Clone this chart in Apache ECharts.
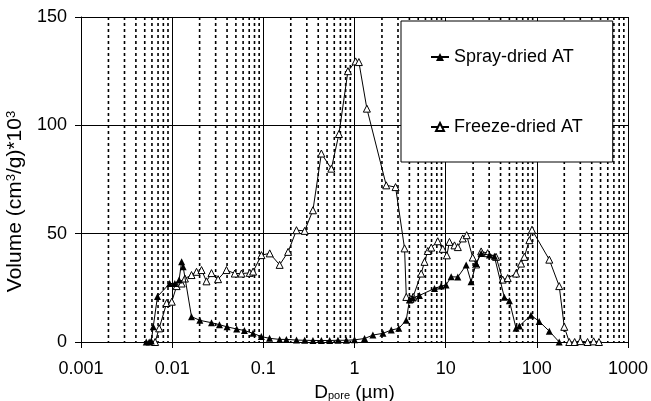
<!DOCTYPE html>
<html>
<head>
<meta charset="utf-8">
<script src="https://cdn.jsdelivr.net/npm/echarts@6/dist/echarts.min.js"></script>
<style>
  html, body { margin: 0; padding: 0; background: #fff; }
  #chart { width: 651px; height: 401px; }
</style>
</head>
<body>
<div id="chart"></div>
<script>
// 孔径 (µm) 与体积 (cm3/g)*10^3
const sprayD = [0.0052, 0.0056, 0.0059, 0.0062, 0.0069, 0.0094, 0.0107, 0.0119, 0.0127, 0.0132, 0.0163, 0.0201,
  0.027, 0.033, 0.040, 0.051, 0.062, 0.077, 0.095, 0.117, 0.151, 0.179, 0.231, 0.284, 0.35, 0.433, 0.534,
  0.658, 0.813, 1.0, 1.29, 1.59, 2.05, 2.53, 3.06, 3.69, 4.01, 4.36, 5.16, 7.54, 8.93, 10.1, 11.5, 13.6,
  16.8, 19.0, 21.6, 24.5, 30.2, 34.2, 44.0, 50.0, 59.2, 64.3, 86.3, 106, 137, 176]
const sprayV = [0, 0, 0.5, 7, 21, 27, 27, 28.6, 37, 34.7, 11.7, 10, 8.9, 8, 7, 6, 5.3, 4, 2.5, 1.7, 1.2, 1.2,
  0.9, 0.8, 0.7, 0.7, 0.7, 0.8, 0.8, 1, 1.6, 3.2, 4, 5.5, 6.3, 10, 19.4, 20.3, 21.5, 24.7, 25.8, 26.3, 30.1, 30,
  35.5, 27.8, 36.2, 40.8, 40.1, 39.6, 20.6, 19, 6.3, 7.4, 12.4, 9.5, 5, 0]

const freezeD = [0.0065, 0.0072, 0.0087, 0.0099, 0.0112, 0.0127, 0.0138, 0.0163, 0.0185, 0.021, 0.0238, 0.027,
  0.0319, 0.0394, 0.0486, 0.0576, 0.071, 0.0772, 0.0953, 0.1175, 0.151, 0.187, 0.231, 0.284, 0.35, 0.433,
  0.557, 0.675, 0.847, 1.028, 1.117, 1.367, 2.23, 2.82, 3.54, 3.7, 4.1, 4.4, 5.39, 5.86, 6.37, 6.94, 8.19,
  9.29, 10.3, 11.0, 12.5, 13.6, 15.4, 17.0, 19.8, 21.6, 24.5, 28.9, 35.7, 42.2, 47.9, 59.2, 67.1, 73.0,
  82.8, 88.5, 137, 176, 200, 227, 260, 300, 360, 420, 480]
const freezeV = [0, 6.3, 18, 18.6, 25.8, 27, 29.3, 30.9, 32.4, 33.2, 28, 31.8, 29, 33.2, 31.6, 31.6, 31.9, 32.5,
  40.1, 40.9, 35.6, 41.6, 51.6, 51.3, 60.8, 87, 80, 96, 125, 129.5, 129.2, 107.7, 72.3, 71.5, 43.2, 20.8,
  19.8, 20.9, 31.6, 37, 42, 43.6, 46.5, 43, 40, 46.2, 44.6, 43.8, 47.8, 49.3, 39, 35.8, 41.8, 41, 39.3,
  28.8, 29.5, 31.6, 36.2, 39.3, 47, 51.8, 38, 25.8, 7, 0, 0, 0.4, 0, 0.3, 0]

const seriesNames = ['Spray-dried AT', 'Freeze-dried AT']
const xTicks = [0.001, 0.01, 0.1, 1, 10, 100, 1000]
const yTicks = [0, 50, 100, 150]

// 每个数量级中 2..9 的虚线网格
const minorLines = []
for (let i = 0; i < xTicks.length - 1; i++) {
  for (let k = 2; k <= 9; k++) {
    minorLines.push([+(xTicks[i] * k).toPrecision(3), 0])
  }
}

const pairs = (xs, ys) => xs.map((x, i) => [x, ys[i]])

const chartInstance = echarts.init(document.getElementById('chart'))
const option = {
  animation: false,
  backgroundColor: '#fff',
  textStyle: { fontFamily: 'Liberation Sans, Arial, sans-serif', color: '#000' },
  grid: { left: 81, right: 23, top: 17, bottom: 59, outerBoundsMode: 'none' },
  legend: {
    data: seriesNames,
    orient: 'vertical',
    left: 401,
    top: 21,
    z: 20,
    padding: [26, 30, 25, 29],
    itemGap: 50,
    itemWidth: 18,
    itemHeight: 10,
    backgroundColor: '#fff',
    borderColor: '#000',
    borderWidth: 1,
    textStyle: { fontSize: 18, lineHeight: 20, color: '#000' }
  },
  xAxis: {
    type: 'log',
    logBase: 10,
    min: xTicks[0],
    max: xTicks[xTicks.length - 1],
    name: 'D{sub|pore} (µm)',
    nameLocation: 'middle',
    nameGap: 34,
    nameTextStyle: {
      fontSize: 19,
      color: '#000',
      rich: { sub: { fontSize: 11, verticalAlign: 'bottom', padding: [6, 0, 0, 0] } }
    },
    axisLine: { lineStyle: { color: '#000', width: 1 } },
    axisTick: { show: true, length: 6, lineStyle: { color: '#000' } },
    axisLabel: {
      fontSize: 18,
      color: '#000',
      margin: 18,
      formatter: (v) => String(+v.toPrecision(3))
    },
    splitLine: { show: true, lineStyle: { color: '#000', width: 1 } }
  },
  yAxis: {
    type: 'value',
    min: yTicks[0],
    max: yTicks[yTicks.length - 1],
    interval: 50,
    name: 'Volume (cm{sup|3}/g)*10{sup|3}',
    nameLocation: 'middle',
    nameGap: 49,
    nameTextStyle: {
      fontSize: 21,
      color: '#000',
      padding: [0, 44, 0, 0],
      rich: { sup: { fontSize: 13, verticalAlign: 'top' } }
    },
    axisLine: { show: true, lineStyle: { color: '#000', width: 1 } },
    axisTick: { show: true, length: 6, lineStyle: { color: '#000' } },
    axisLabel: { fontSize: 18, color: '#000', margin: 14 },
    splitLine: { show: true, lineStyle: { color: '#000', width: 1 } }
  },
  series: [
    {
      // 虚线次网格
      type: 'custom',
      silent: true,
      z: 1,
      data: minorLines,
      renderItem: (params, api) => {
        const top = api.coord([api.value(0), yTicks[yTicks.length - 1]])
        const bottom = api.coord([api.value(0), yTicks[0]])
        return {
          type: 'line',
          shape: { x1: top[0], y1: top[1], x2: bottom[0], y2: bottom[1] },
          style: { stroke: '#000', lineWidth: 1.6, lineDash: [3, 3] }
        }
      }
    },
    {
      name: seriesNames[0],
      type: 'line',
      data: pairs(sprayD, sprayV),
      symbol: 'triangle',
      symbolSize: 7,
      lineStyle: { color: '#000', width: 1 },
      itemStyle: { color: '#000' },
      z: 4
    },
    {
      name: seriesNames[1],
      type: 'line',
      data: pairs(freezeD, freezeV),
      symbol: 'triangle',
      symbolSize: 7,
      lineStyle: { color: '#000', width: 1 },
      itemStyle: { color: '#fff', borderColor: '#000', borderWidth: 1 },
      z: 3
    }
  ]
}
chartInstance.setOption(option)
</script>
</body>
</html>
